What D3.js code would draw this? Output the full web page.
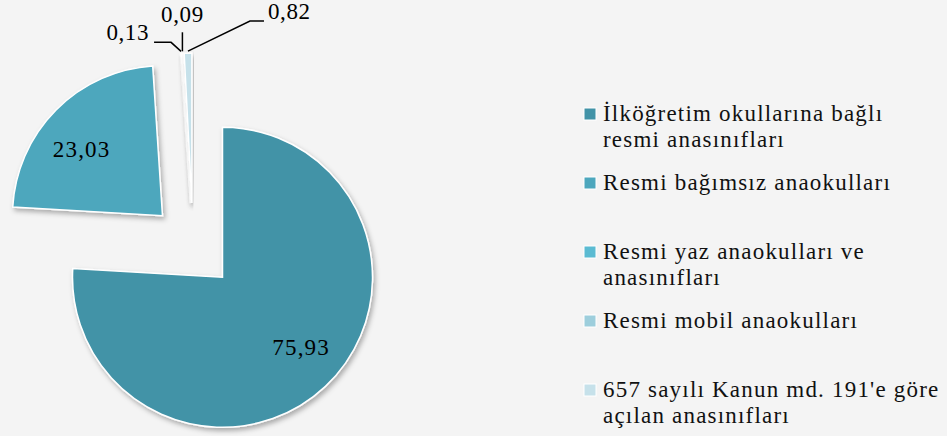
<!DOCTYPE html>
<html>
<head>
<meta charset="utf-8">
<script src="https://cdn.jsdelivr.net/npm/d3@7"></script>
<style>
  html, body { margin: 0; padding: 0; background: #f4f4f4; }
  svg { display: block; font-family: "Liberation Serif", "DejaVu Serif", serif; }
</style>
</head>
<body>
<div id="chart"></div>
<script>
// Data
const categories = [
    ["İlköğretim okullarına bağlı", "resmi anasınıfları"],
    ["Resmi bağımsız anaokulları"],
    ["Resmi yaz anaokulları ve", "anasınıfları"],
    ["Resmi mobil anaokulları"],
    ["657 sayılı Kanun md. 191'e göre", "açılan anasınıfları"]
];
const values = [75.93, 23.03, 0.13, 0.09, 0.82];
const valueLabels = ["75,93", "23,03", "0,13", "0,09", "0,82"];
const colors = ["#4293a7", "#4da7bd", "#5bbbd2", "#9dcedc", "#c6e1ea"];

// Config
const cfg = {
    width: 947,
    height: 436,
    center: [193, 246],
    radius: 150,
    explode: 43,
    labelRadius: 105,
    labelShift: -0.09, // inner labels sit a little counter-clockwise of mid angle
    legend: {x: 584, y: 121, step: 69, lineHeight: 26, box: 12}
};

const svg = d3.select("#chart").append("svg")
    .attr("width", cfg.width)
    .attr("height", cfg.height);

svg.append("rect")
    .attr("width", cfg.width)
    .attr("height", cfg.height)
    .attr("fill", "#f4f4f4");

// Drop shadow for slices
const defs = svg.append("defs");
const filter = defs.append("filter")
    .attr("id", "shadow")
    .attr("x", "-20%").attr("y", "-20%")
    .attr("width", "140%").attr("height", "140%");
filter.append("feDropShadow")
    .attr("dx", 2).attr("dy", 3)
    .attr("stdDeviation", 2.5)
    .attr("flood-color", "#000")
    .attr("flood-opacity", 0.3);

const pie = d3.pie().sort(null).value(d => d);
const arcs = pie(values);

const arc = d3.arc().innerRadius(0).outerRadius(cfg.radius);

// Point at distance dist along angle a (0 = 12 o'clock, clockwise)
function polar(a, dist) {
    return [Math.sin(a) * dist, -Math.cos(a) * dist];
}
function offset(d, dist) {
    return polar((d.startAngle + d.endAngle) / 2, dist);
}

const g = svg.append("g")
    .attr("transform", `translate(${cfg.center[0]},${cfg.center[1]})`);

g.selectAll("path.slice")
    .data(arcs)
    .enter().append("path")
    .attr("class", "slice")
    .attr("transform", d => `translate(${offset(d, cfg.explode)})`)
    .attr("d", arc)
    .attr("fill", (d, i) => colors[i])
    .attr("stroke", "#fff")
    .attr("stroke-width", 1.5)
    .attr("filter", "url(#shadow)");

// Labels inside the two big slices
g.selectAll("text.inner")
    .data(arcs.filter(d => d.value > 5))
    .enter().append("text")
    .attr("class", "inner")
    .attr("transform", d => {
        const o = offset(d, cfg.explode);
        const c = polar((d.startAngle + d.endAngle) / 2 + cfg.labelShift, cfg.labelRadius);
        return `translate(${c[0] + o[0]},${c[1] + o[1]})`;
    })
    .attr("text-anchor", "middle")
    .attr("dy", "0.35em")
    .attr("font-size", 23)
    .attr("letter-spacing", 1.2)
    .attr("fill", "#000")
    .text(d => valueLabels[d.index]);

// Leader lines for the thin slices: bends relative to the outer tip
const leaders = {
    2: {pts: [[-10, -9], [-27, -9]], text: [-32, -11], anchor: "end"},
    3: {pts: [[0, -19]], text: [0, -29], anchor: "middle"},
    4: {pts: [[62, -30], [76, -30]], text: [80, -32], anchor: "start"}
};

const small = arcs.filter(d => d.value < 5);
const tip = d => offset(d, cfg.radius + cfg.explode + 2);

g.selectAll("path.leader")
    .data(small)
    .enter().append("path")
    .attr("class", "leader")
    .attr("d", d => {
        const t = tip(d);
        const pts = [t].concat(leaders[d.index].pts.map(p => [t[0] + p[0], t[1] + p[1]]));
        return d3.line()(pts);
    })
    .attr("fill", "none")
    .attr("stroke", "#000")
    .attr("stroke-width", 1.5);

g.selectAll("text.outer")
    .data(small)
    .enter().append("text")
    .attr("class", "outer")
    .attr("x", d => tip(d)[0] + leaders[d.index].text[0])
    .attr("y", d => tip(d)[1] + leaders[d.index].text[1])
    .attr("text-anchor", d => leaders[d.index].anchor)
    .attr("font-size", 23)
    .attr("letter-spacing", 0.6)
    .attr("fill", "#000")
    .text(d => valueLabels[d.index]);

// Legend
const legend = svg.append("g")
    .attr("transform", `translate(${cfg.legend.x},${cfg.legend.y})`);

const items = legend.selectAll("g.item")
    .data(categories)
    .enter().append("g")
    .attr("class", "item")
    .attr("transform", (d, i) => `translate(0,${i * cfg.legend.step})`);

items.append("rect")
    .attr("x", 0)
    .attr("y", -13)
    .attr("width", cfg.legend.box)
    .attr("height", cfg.legend.box)
    .attr("fill", (d, i) => colors[i])
    .attr("stroke", "#fff")
    .attr("stroke-width", 1);

items.append("text")
    .attr("font-size", 23)
    .attr("letter-spacing", 1.2)
    .attr("fill", "#111")
    .selectAll("tspan")
    .data(d => d)
    .enter().append("tspan")
    .attr("x", 19)
    .attr("dy", (d, i) => i === 0 ? 0 : cfg.legend.lineHeight)
    .text(d => d);
</script>
</body>
</html>
